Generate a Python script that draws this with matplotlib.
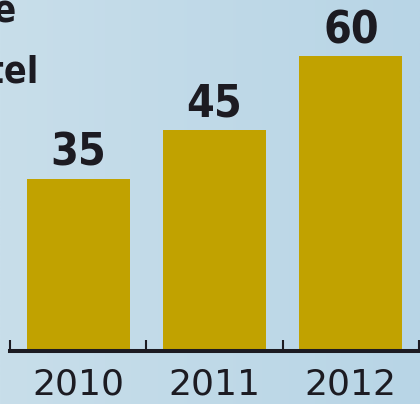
import numpy as np
import matplotlib
matplotlib.use("Agg")
import matplotlib.pyplot as plt
from matplotlib.colors import LinearSegmentedColormap

years = ["2010", "2011", "2012"]
values = [35, 45, 60]
title_lines = ["Occupancy rate", "per hotel"]

bar_color = "#C1A200"
text_color = "#1C1B22"

fig = plt.figure(figsize=(4.2, 4.04), dpi=100)

# background gradient, light blue, a bit darker to the right
bg = fig.add_axes([0, 0, 1, 1], zorder=0)
cmap = LinearSegmentedColormap.from_list("bg", ["#C8DEEA", "#B8D5E6"])
bg.imshow(np.linspace(0, 1, 256).reshape(1, -1), aspect="auto", cmap=cmap,
          extent=[0, 1, 0, 1])
bg.axis("off")

ax = fig.add_axes([10 / 420, 53 / 404, 409 / 420, 351 / 404], zorder=1)
ax.patch.set_alpha(0)
x = np.arange(len(years))
bars = ax.bar(x, values, width=0.755, color=bar_color, zorder=2)
ax.set_xlim(-0.5, 2.5)
ax.set_ylim(0, 71.5)

for b, v in zip(bars, values):
    ax.annotate(str(v), (b.get_x() + b.get_width() / 2, v),
                xytext=(0, 9.5), textcoords="offset points",
                ha="center", va="baseline", fontsize=32, fontweight="bold",
                family="DejaVu Sans", fontstretch="condensed", color=text_color)

for s in ["top", "left", "right"]:
    ax.spines[s].set_visible(False)
ax.spines["bottom"].set_linewidth(2.9)
ax.spines["bottom"].set_color(text_color)
ax.set_yticks([])
ax.set_xticks(x)
ax.set_xticklabels(years, fontsize=26, color=text_color)
ax.tick_params(axis="x", which="major", length=0, pad=12)
ax.set_xticks([-0.5, 0.5, 1.5, 2.5], minor=True)
ax.tick_params(axis="x", which="minor", direction="in", length=8, width=1.5,
               color=text_color)

# title, mostly cut off at the left edge
fig.text(16 / 420, 1 - 22 / 404, title_lines[0], ha="right", va="baseline",
         fontsize=27, fontweight="bold", family="DejaVu Sans",
         fontstretch="condensed", color=text_color)
fig.text(38 / 420, 1 - 83 / 404, title_lines[1], ha="right", va="baseline",
         fontsize=27, fontweight="bold", family="DejaVu Sans",
         fontstretch="condensed", color=text_color)

fig.savefig("out.png", dpi=100)
